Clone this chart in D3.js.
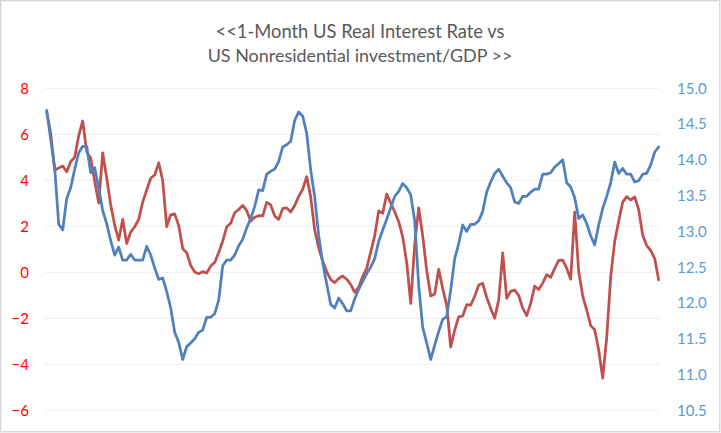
<!DOCTYPE html>
<html>
<head>
<meta charset="utf-8">
<script src="https://cdn.jsdelivr.net/npm/d3@7"></script>
<style>
  html, body { margin: 0; padding: 0; background: #ffffff; }
  svg { display: block; }
</style>
</head>
<body>
<svg id="chart" width="721" height="433"></svg>
<script>
// ---- Data (evenly spaced periods) ----
const titleLines = ["<<1-Month US Real Interest Rate vs", "US Nonresidential investment/GDP >>"];

const leftTicks = [8, 6, 4, 2, 0, -2, -4, -6];
const rightTicks = [15.0, 14.5, 14.0, 13.5, 13.0, 12.5, 12.0, 11.5, 11.0, 10.5];

// 1-Month US real interest rate (left axis, %)
const realRate = [
  6.98, 6.04, 4.43, 4.54, 4.62, 4.37, 4.81, 5.00, 5.94, 6.58,
  5.24, 4.96, 3.96, 3.01, 5.19, 4.10, 2.94, 2.05, 1.40, 2.30,
  1.25, 1.75, 1.98, 2.30, 3.05, 3.58, 4.09, 4.23, 4.76, 3.99,
  1.99, 2.50, 2.54, 2.03, 1.03, 0.85, 0.30, 0.01, -0.06, 0.03,
  -0.03, 0.27, 0.43, 0.86, 1.35, 1.98, 2.13, 2.59, 2.73, 2.91,
  2.68, 2.23, 2.39, 2.46, 2.45, 3.04, 2.93, 2.45, 2.30, 2.78,
  2.80, 2.62, 2.90, 3.30, 3.61, 4.16, 3.27, 1.84, 1.05, 0.49,
  0.03, -0.32, -0.45, -0.27, -0.16, -0.30, -0.53, -0.87, -0.64, -0.18,
  0.17, 0.88, 1.59, 2.67, 2.57, 3.40, 3.02, 2.63, 2.20, 1.54,
  0.43, -1.35, 1.21, 2.80, 1.58, 0.08, -1.03, -0.94, 0.13, -0.70,
  -1.44, -3.25, -2.51, -1.94, -1.90, -1.41, -1.43, -1.04, -0.55, -0.48,
  -1.09, -1.57, -2.00, -1.20, 0.84, -1.13, -0.83, -0.77, -1.01, -1.56,
  -1.88, -1.35, -0.60, -0.75, -0.47, -0.10, -0.22, 0.17, 0.52, 0.53,
  0.17, -0.30, 2.62, 0.03, -1.02, -1.64, -2.32, -2.50, -3.38, -4.60,
  -2.84, -0.20, 1.35, 2.23, 3.05, 3.29, 3.14, 3.28, 2.72, 1.61,
  1.16, 0.95, 0.60, -0.33
];

// US nonresidential investment / GDP (right axis, %)
const investGdp = [
  14.69, 14.29, 13.89, 13.10, 13.02, 13.46, 13.61, 13.87, 14.10, 14.19,
  14.19, 13.82, 13.89, 13.61, 13.29, 13.11, 12.87, 12.67, 12.78, 12.60,
  12.60, 12.68, 12.60, 12.60, 12.60, 12.79, 12.67, 12.49, 12.33, 12.35,
  12.16, 11.93, 11.59, 11.45, 11.21, 11.39, 11.44, 11.50, 11.59, 11.62,
  11.80, 11.80, 11.85, 12.04, 12.52, 12.60, 12.60, 12.67, 12.80, 12.89,
  13.05, 13.18, 13.35, 13.58, 13.57, 13.80, 13.84, 13.87, 13.98, 14.18,
  14.21, 14.26, 14.55, 14.67, 14.61, 14.37, 13.86, 13.48, 12.94, 12.56,
  12.27, 11.98, 11.93, 12.07, 11.99, 11.89, 11.89, 12.06, 12.19, 12.30,
  12.41, 12.50, 12.62, 12.86, 13.02, 13.17, 13.33, 13.49, 13.56, 13.67,
  13.61, 13.51, 13.15, 12.25, 11.66, 11.44, 11.21, 11.41, 11.60, 11.77,
  11.81, 12.18, 12.62, 12.83, 13.09, 13.00, 13.10, 13.10, 13.15, 13.28,
  13.55, 13.69, 13.81, 13.87, 13.77, 13.68, 13.61, 13.41, 13.39, 13.49,
  13.49, 13.55, 13.59, 13.59, 13.80, 13.80, 13.82, 13.90, 13.95, 14.00,
  13.68, 13.62, 13.47, 13.18, 13.23, 13.11, 12.94, 12.81, 13.09, 13.32,
  13.49, 13.68, 13.97, 13.81, 13.88, 13.80, 13.80, 13.69, 13.71, 13.80,
  13.81, 13.93, 14.11, 14.18
];

const periods = d3.range(realRate.length);

// ---- Drawing ----
const svg = d3.select("#chart");
const W = 721, H = 433;
const plot = { left: 46.7, right: 658.7, top: 88.3, bottom: 410.3 };

svg.append("rect").attr("x", 0).attr("y", 0).attr("width", W).attr("height", H).attr("fill", "#ffffff");
svg.append("rect")
  .attr("x", 0.75).attr("y", 0.75).attr("width", W - 2).attr("height", H - 2)
  .attr("fill", "none").attr("stroke", "#d9d9d9").attr("stroke-width", 1.5);

const x = d3.scaleLinear().domain([0, periods.length - 1]).range([plot.left, plot.right]);
const yL = d3.scaleLinear().domain([-6, 8]).range([plot.bottom, plot.top]);
const yR = d3.scaleLinear().domain([10.5, 15]).range([plot.bottom, plot.top]);

// gridlines
svg.append("g").selectAll("line").data(leftTicks).join("line")
  .attr("x1", 45).attr("x2", 659)
  .attr("y1", d => yL(d)).attr("y2", d => yL(d))
  .attr("stroke", "#f0f0f0").attr("stroke-width", 1.3);

const fontFam = "Lato, 'Open Sans', 'DejaVu Sans', sans-serif";

// left axis labels
const leftAxis = d3.axisLeft(yL).tickValues(leftTicks).tickSize(0).tickPadding(0).tickFormat(d3.format("d"));
const gL = svg.append("g").attr("transform", "translate(29,0)").call(leftAxis);
gL.select(".domain").remove();
gL.selectAll("text").attr("fill", "#ff0000").style("font-family", fontFam).style("font-size", "15px");

// right axis labels
const rightAxis = d3.axisRight(yR).tickValues(rightTicks).tickSize(0).tickPadding(0).tickFormat(d3.format(".1f"));
const gR = svg.append("g").attr("transform", "translate(677,0)").call(rightAxis);
gR.select(".domain").remove();
gR.selectAll("text").attr("fill", "#5b9bd5").style("font-family", fontFam).style("font-size", "15px");

// lines
const lineL = d3.line().x((d, i) => x(i)).y(d => yL(d)).curve(d3.curveLinear);
const lineR = d3.line().x((d, i) => x(i)).y(d => yR(d)).curve(d3.curveLinear);

svg.append("path").datum(realRate)
  .attr("d", lineL).attr("fill", "none")
  .attr("stroke", "#c0504d").attr("stroke-width", 2.75)
  .attr("stroke-linejoin", "round").attr("stroke-linecap", "round");

svg.append("path").datum(investGdp)
  .attr("d", lineR).attr("fill", "none")
  .attr("stroke", "#4f81bd").attr("stroke-width", 2.75)
  .attr("stroke-linejoin", "round").attr("stroke-linecap", "round");

// title
const targetWidths = [289, 305];
const baselines = [38, 62];
titleLines.forEach((t, k) => {
  const tx = svg.append("text")
    .attr("x", 360).attr("y", baselines[k])
    .attr("text-anchor", "middle")
    .attr("fill", "#595959")
    .style("font-family", fontFam)
    .style("font-size", "18px")
    .text(t);
  const w = tx.node().getComputedTextLength();
  if (w > 0) tx.style("font-size", (18 * targetWidths[k] / w).toFixed(2) + "px");
});
</script>
</body>
</html>
